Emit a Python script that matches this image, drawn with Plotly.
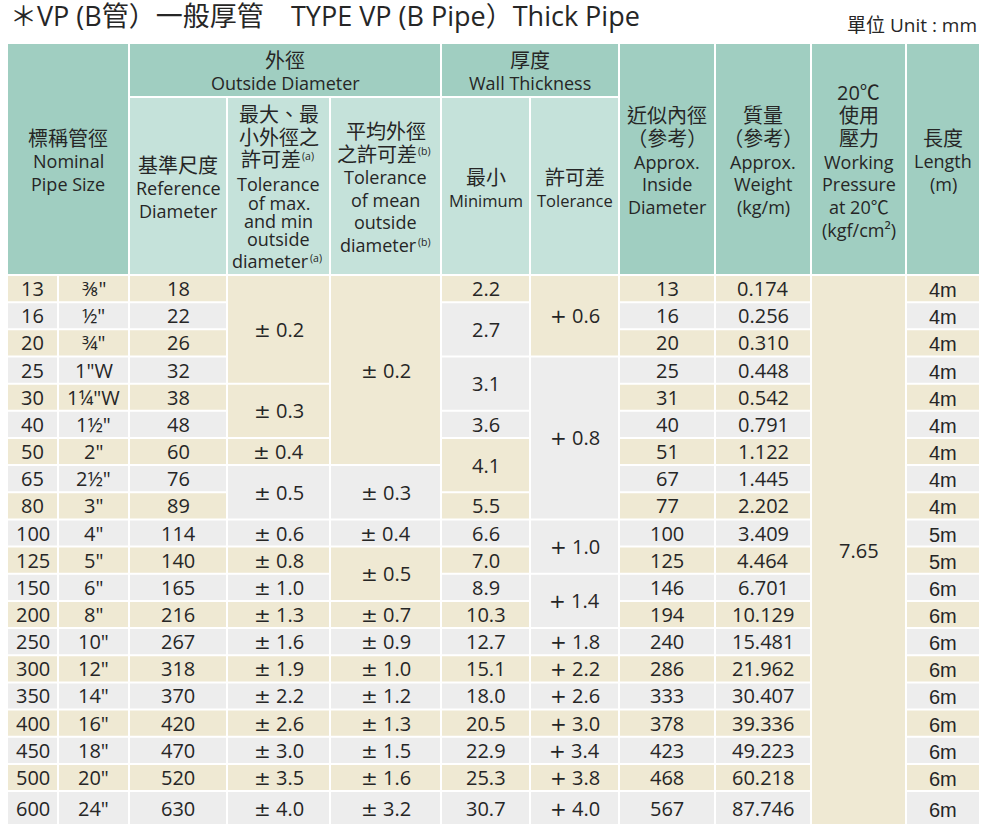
import plotly.graph_objects as go

# ---- table values ----
nominal_mm = [13, 16, 20, 25, 30, 40, 50, 65, 80, 100, 125, 150, 200, 250, 300, 350, 400, 450, 500, 600]
nominal_inch = ['⅜"', '½"', '¾"', '1"W', '1¼"W', '1½"', '2"', '2½"', '3"', '4"', '5"', '6"', '8"',
                '10"', '12"', '14"', '16"', '18"', '20"', '24"']
ref_diameter = [18, 22, 26, 32, 38, 48, 60, 76, 89, 114, 140, 165, 216, 267, 318, 370, 420, 470, 520, 630]

# merged cells: value list + how many rows each value covers
tol_maxmin = [0.2, 0.3, 0.4, 0.5, 0.6, 0.8, 1.0, 1.3, 1.6, 1.9, 2.2, 2.6, 3.0, 3.5, 4.0]
tol_maxmin_rows = [4, 2, 1, 2, 1, 1, 1, 1, 1, 1, 1, 1, 1, 1, 1]
tol_mean = [0.2, 0.3, 0.4, 0.5, 0.7, 0.9, 1.0, 1.2, 1.3, 1.5, 1.6, 3.2]
tol_mean_rows = [7, 2, 1, 2, 1, 1, 1, 1, 1, 1, 1, 1]
wall_min = [2.2, 2.7, 3.1, 3.6, 4.1, 5.5, 6.6, 7.0, 8.9, 10.3, 12.7, 15.1, 18.0, 20.5, 22.9, 25.3, 30.7]
wall_min_rows = [1, 2, 2, 1, 2, 1, 1, 1, 1, 1, 1, 1, 1, 1, 1, 1, 1]
wall_tol = [0.6, 0.8, 1.0, 1.4, 1.8, 2.2, 2.6, 3.0, 3.4, 3.8, 4.0]
wall_tol_rows = [3, 6, 2, 2, 1, 1, 1, 1, 1, 1, 1]

inside_diameter = [13, 16, 20, 25, 31, 40, 51, 67, 77, 100, 125, 146, 194, 240, 286, 333, 378, 423, 468, 567]
weight = [0.174, 0.256, 0.310, 0.448, 0.542, 0.791, 1.122, 1.445, 2.202, 3.409, 4.464, 6.701, 10.129,
          15.481, 21.962, 30.407, 39.336, 49.223, 60.218, 87.746]
pressure = [7.65]
pressure_rows = [20]
length = ['4m', '4m', '4m', '4m', '4m', '4m', '4m', '4m', '4m', '5m', '5m',
          '6m', '6m', '6m', '6m', '6m', '6m', '6m', '6m', '6m']

title_zh = "＊VP (B管）一般厚管"
title_en = "TYPE VP (B Pipe）Thick Pipe"
unit_label = "單位 Unit : mm"

# ---- look ----
HEAD = "#a0cec1"
SUBHEAD = "#c5e2da"
BEIGE = "#efe9d3"
GRAY = "#ededed"
INK = "#262626"
FONT = "Open Sans, Noto Sans CJK TC, sans-serif"

# column grid (gaps of 2px between cells)
xb = [7, 58, 129, 227, 330, 441, 530, 619, 715, 811, 906, 980]
top, mid, head_bottom = 43, 97, 275
row_y = [head_bottom + i * 27.16 for i in range(20)] + [825]

shapes = []
annotations = []


def cell(c0, c1, y0, y1, color):
    shapes.append(dict(type="rect", xref="x", yref="y", x0=xb[c0] + 1, x1=xb[c1] - 1,
                       y0=y0 + 1, y1=y1 - 1, fillcolor=color, line=dict(width=0), layer="below"))


def text(x, y, s, size=20, family=FONT, anchor="center"):
    annotations.append(dict(x=x, y=y, xref="x", yref="y", text=s, showarrow=False,
                            xanchor=anchor, yanchor="middle",
                            font=dict(size=size, family=family, color=INK)))


def ccx(c0, c1):
    return (xb[c0] + xb[c1]) / 2


# ---- header ----
cell(0, 2, top, head_bottom, HEAD)
cell(2, 5, top, mid, HEAD)
cell(5, 7, top, mid, HEAD)
for c in range(2, 7):
    cell(c, c + 1, mid, head_bottom, SUBHEAD)
for c in range(7, 11):
    cell(c, c + 1, top, head_bottom, HEAD)

# nbsp around the full-width brackets keeps the browser from trimming them
ref_note = "\u00a0（參考）\u00a0"
header_lines = [
    ((0, 2), [("標稱管徑", 138, 20), ("Nominal", 161, 18), ("Pipe Size", 184, 18)]),
    ((2, 5), [("外徑", 60, 20), ("Outside Diameter", 83, 18)]),
    ((5, 7), [("厚度", 60, 20), ("Wall Thickness", 83, 18)]),
    ((2, 3), [("基準尺度", 165, 20), ("Reference", 188, 18), ("Diameter", 211, 18)]),
    ((3, 4), [("最大、最", 114, 20), ("小外徑之", 137, 20),
              ("Tolerance", 184, 18), ("of max.", 203, 18), ("and min", 221, 18),
              ("outside", 239, 18)]),
    ((4, 5), [("平均外徑", 131, 20), ("Tolerance", 177, 18),
              ("of mean", 200, 18), ("outside", 222, 18)]),
    ((5, 6), [("最小", 177, 20), ("Minimum", 200, 16.5)]),
    ((6, 7), [("許可差", 177, 20), ("Tolerance", 200, 16.5)]),
    ((7, 8), [("近似內徑", 115, 20), (ref_note, 138, 20), ("Approx.", 162, 18),
              ("Inside", 184, 18), ("Diameter", 207, 18)]),
    ((8, 9), [("質量", 115, 20), (ref_note, 138, 20), ("Approx.", 162, 18),
              ("Weight", 184, 18), ("(kg/m)", 207, 18)]),
    ((9, 10), [("20℃", 92, 20), ("使用", 115, 20), ("壓力", 138, 20), ("Working", 162, 18),
               ("Pressure", 184, 18), ("at 20℃", 207, 18), ("(kgf/cm²)", 230, 18)]),
    ((10, 11), [("長度", 138, 20), ("Length", 161, 18), ("(m)", 184, 18)]),
]
for (c0, c1), lines in header_lines:
    for s, y, size in lines:
        text(ccx(c0, c1), y, s, size)

# lines carrying the footnote marks (a) / (b): text ends where the mark starts
noted_lines = [
    ("許可差", "(a)", 302, 159, 20),
    ("diameter", "(a)", 310, 261, 18),
    ("之許可差", "(b)", 418, 154, 20),
    ("diameter", "(b)", 418, 245, 18),
]
for s, mark, x, y, size in noted_lines:
    text(x + 1, y, s, size, anchor="right")
    text(x - 2, y - 3, mark, 10.5, anchor="left")


# ---- body ----
def row_color(i):
    return BEIGE if i % 2 == 0 else GRAY


def signed(sign):
    # the sign uses a wider face, as in the print
    return lambda v: f"<span style='font-family:DejaVu Sans'>{sign}</span> {v:.1f}"


def single_column(col, values, fmt, family=FONT, dy=0):
    for i, v in enumerate(values):
        cell(col, col + 1, row_y[i], row_y[i + 1], row_color(i))
        text(ccx(col, col + 1), (row_y[i] + row_y[i + 1]) / 2 + dy, fmt(v), 20, family)


def merged_column(col, values, spans, fmt):
    r = 0
    for v, n in zip(values, spans):
        cell(col, col + 1, row_y[r], row_y[r + n], row_color(r))
        text(ccx(col, col + 1), (row_y[r] + row_y[r + n]) / 2, fmt(v), 20)
        r += n


single_column(0, nominal_mm, str)
single_column(1, nominal_inch, str)
single_column(2, ref_diameter, str)
merged_column(3, tol_maxmin, tol_maxmin_rows, signed("±"))
merged_column(4, tol_mean, tol_mean_rows, signed("±"))
merged_column(5, wall_min, wall_min_rows, lambda v: f"{v:.1f}")
merged_column(6, wall_tol, wall_tol_rows, signed("+"))
single_column(7, inside_diameter, str)
single_column(8, weight, lambda v: f"{v:.3f}")
merged_column(9, pressure, pressure_rows, lambda v: f"{v:.2f}")
single_column(10, length, str, family="Liberation Sans, Arial, sans-serif", dy=1.5)

# ---- titles ----
text(8, 15, title_zh, 27, anchor="left")
text(289, 15, title_en, 27, anchor="left")
text(979, 25, unit_label, 19, anchor="right")

fig = go.Figure()
fig.update_layout(
    width=982, height=827,
    margin=dict(l=0, r=0, t=0, b=0),
    paper_bgcolor="white", plot_bgcolor="white",
    xaxis=dict(range=[0, 982], visible=False, fixedrange=True),
    yaxis=dict(range=[827, 0], visible=False, fixedrange=True),
    shapes=shapes, annotations=annotations,
    showlegend=False,
)
fig.write_html("out.html", config={"displayModeBar": False},
               post_script="document.body.style.margin='0';document.body.style.overflow='hidden';")
